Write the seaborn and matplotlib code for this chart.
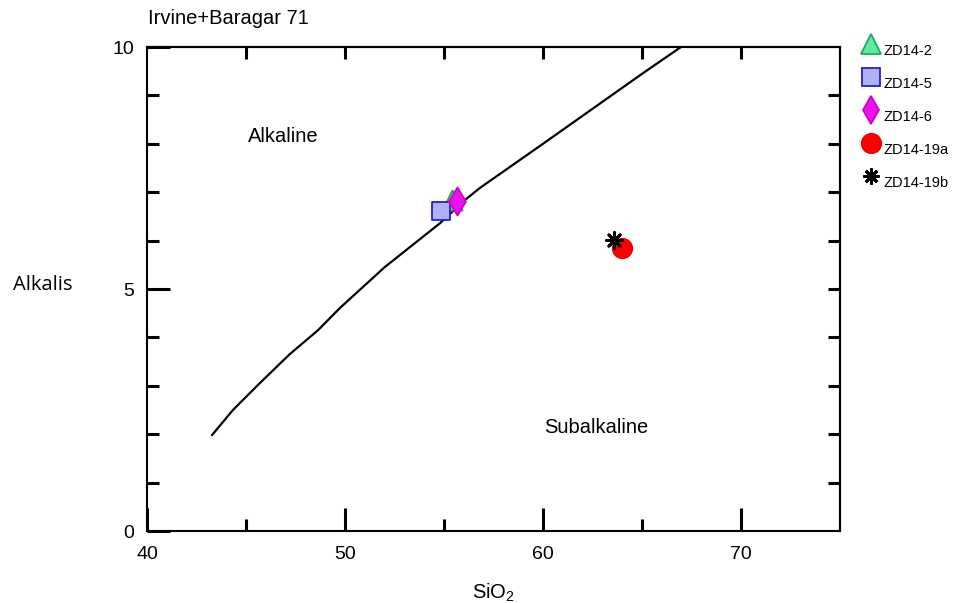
import matplotlib
matplotlib.use("Agg")
import matplotlib.pyplot as plt
import seaborn as sns
import pandas as pd
from matplotlib.lines import Line2D

# Irvine & Baragar (1971) alkaline/subalkaline divide
divide_sio2 = [43.28, 44.34, 45.71, 47.2, 48.64, 49.75, 52.0, 54.80, 56.06, 56.82, 60.0, 65.05, 66.97]
divide_alk = [1.98, 2.50, 3.06, 3.65, 4.15, 4.61, 5.45, 6.36, 6.84, 7.09, 8.00, 9.46, 10.0]

# samples
samples = ["ZD14-2", "ZD14-5", "ZD14-6", "ZD14-19a", "ZD14-19b"]
sample_sio2 = [55.4, 54.85, 55.66, 63.99, 63.59]
sample_alk = [6.84, 6.61, 6.82, 5.85, 6.01]

x_ticks = [40, 50, 60, 70]
y_ticks = [0, 5, 10]

styles = {
    "ZD14-2": dict(marker="^", s=14.5**2, color="#5ee8a0", edgecolor="#1fa85a"),
    "ZD14-5": dict(marker="s", s=13.5**2, color="#b0b0f6", edgecolor="#2222cc"),
    "ZD14-6": dict(marker="d", s=14.3**2, color="#ee11ee", edgecolor="#cc00cc"),
    "ZD14-19a": dict(marker="o", s=14**2, color="#ff0000", edgecolor="#ee0000"),
    "ZD14-19b": dict(marker=(8, 2, 0), s=11.5**2, color="black", edgecolor="black"),
}

sns.set_style("white")
plt.rcParams["font.family"] = ["Liberation Sans", "DejaVu Sans"]
plt.rcParams["mathtext.default"] = "regular"
plt.rcParams["text.color"] = "black"
plt.rcParams["xtick.color"] = "black"
plt.rcParams["ytick.color"] = "black"
plt.rcParams["axes.labelcolor"] = "black"

fig = plt.figure(figsize=(9.56, 6.03), dpi=100)
ax = fig.add_axes([147/956, 1-531/603, (840-147)/956, (531-47)/603])

line_df = pd.DataFrame({"SiO2": divide_sio2, "Alk": divide_alk})
sns.lineplot(data=line_df, x="SiO2", y="Alk", sort=False, color="black", lw=1.6, ax=ax)

order = ["ZD14-2", "ZD14-5", "ZD14-6", "ZD14-19a", "ZD14-19b"]
for name in order:
    i = samples.index(name)
    st = styles[name]
    df = pd.DataFrame({"x": [sample_sio2[i]], "y": [sample_alk[i]]})
    lw = 2.0 if name == "ZD14-19b" else 1.3
    sns.scatterplot(data=df, x="x", y="y", marker=st["marker"], s=st["s"],
                    color=st["color"], edgecolor=st["edgecolor"], linewidth=lw,
                    ax=ax, zorder=5)

ax.set_xlim(40, 75)
ax.set_ylim(0, 10)
ax.set_xticks(x_ticks)
ax.set_xticks([45, 55, 65], minor=True)
ax.set_yticks(y_ticks)
ax.set_yticks([1, 2, 3, 4, 6, 7, 8, 9], minor=True)
ax.tick_params(which="major", direction="in", length=16.5, width=2.2, labelsize=14,
               bottom=True, left=True, top=False, right=False)
ax.tick_params(axis="x", which="major", pad=11)
ax.tick_params(axis="y", which="major", pad=9)
ax.tick_params(which="minor", direction="in", length=8.6, width=2.2,
               bottom=True, left=True, top=False, right=False)
ax.set_yticklabels([str(v) for v in y_ticks])
ax.set_xticklabels([str(v) for v in x_ticks])

# top & right ticks (all short)
secx = ax.secondary_xaxis("top")
secx.set_xticks([45, 50, 55, 60, 65, 70])
secx.tick_params(direction="in", length=8.6, width=2.2, top=True, labeltop=False)
secy = ax.secondary_yaxis("right")
secy.set_yticks([1, 2, 3, 4, 5, 6, 7, 8, 9])
secy.tick_params(direction="in", length=8.6, width=2.2, right=True, labelright=False)

for sp in ax.spines.values():
    sp.set_linewidth(1.5)
    sp.set_color("black")
for sp in list(secx.spines.values()) + list(secy.spines.values()):
    sp.set_linewidth(1.5)
    sp.set_color("black")

ax.set_xlabel("SiO$_2$", fontsize=14.5, labelpad=13)
ax.set_ylabel("")
fig.text(13/956, 1-285/603, "Alkalis", fontsize=14.5, ha="left", va="center",
         family=["Open Sans", "DejaVu Sans"])
fig.text(148/956, 1-18/603, "Irvine+Baragar 71", fontsize=14.5, ha="left", va="center")

ax.text(46.87, 8.16, "Alkaline", fontsize=14.5, ha="center", va="center")
ax.text(62.68, 2.13, "Subalkaline", fontsize=14.5, ha="center", va="center")

handles = []
for name in order:
    st = styles[name]
    ms = st["s"] ** 0.5
    handles.append(Line2D([], [], ls="none", marker=st["marker"], markersize=ms,
                          markerfacecolor=st["color"], markeredgecolor=st["edgecolor"],
                          markeredgewidth=2.0 if name == "ZD14-19b" else 1.3))
leg = fig.legend(handles, order, loc="upper left", bbox_to_anchor=(864/956, 1-38/603),
                 frameon=False, fontsize=10.5, handlelength=1.0, handletextpad=0.35,
                 labelspacing=1.3, borderaxespad=0, borderpad=0)
for t in leg.get_texts():
    t.set_y(-6)

fig.savefig("out.png", dpi=100)
